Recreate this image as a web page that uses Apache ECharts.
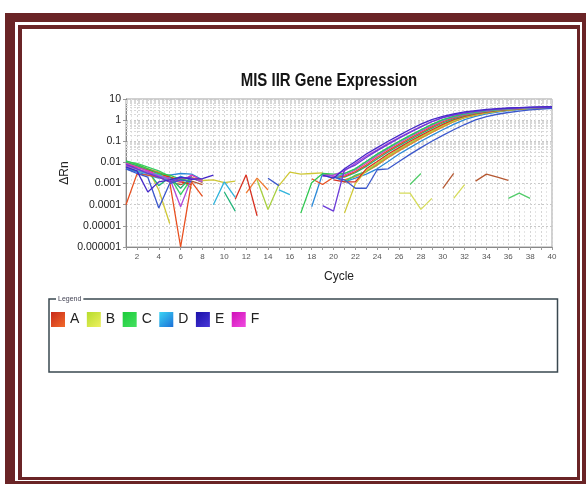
<!DOCTYPE html>
<html><head><meta charset="utf-8">
<script src="https://cdn.jsdelivr.net/npm/echarts@6/dist/echarts.min.js"></script>
<style>html,body{margin:0;padding:0;background:#fff}#c{width:586px;height:484px}</style>
</head><body><div id="c"></div>
<script>
const cycles = [1,2,3,4,5,6,7,8,9,10,11,12,13,14,15,16,17,18,19,20,21,22,23,24,25,26,27,28,29,30,31,32,33,34,35,36,37,38,39,40];
const xTickLabels = ['2','4','6','8','10','12','14','16','18','20','22','24','26','28','30','32','34','36','38','40'];
const yTickLabels = ['0.000001','0.00001','0.0001','0.001','0.01','0.1','1','10'];
const groups = ['A','B','C','D','E','F'];

const wellA1 = [0.0001,0.0028,0.0025,0.002,0.0012,0.000001,0.0012,0.00025,null,null,
  null,null,null,null,null,null,null,0.0017,0.0009,0.002,
  0.0022,0.0037,0.0075,0.017,0.036,0.071,0.14,0.26,0.48,0.84,
  1.3,1.75,2.2,2.6,3.0,3.3,3.6,3.8,3.98,4.1];
const wellA2 = [0.007,0.006,0.0045,0.003,0.002,0.0012,0.0009,null,null,null,
  0.00018,0.0026,0.00003,null,null,null,null,null,null,0.0015,
  0.0012,0.0012,0.005,0.011,0.025,0.05,0.1,0.19,0.35,0.63,
  1.05,1.5,2.0,2.4,2.8,3.15,3.45,3.7,3.9,4.05];
const wellA3 = [0.009,0.007,0.005,0.0035,0.002,0.0016,0.002,0.0011,null,null,
  null,0.00035,0.0018,0.0005,null,null,null,null,null,null,
  0.0015,0.0022,0.0037,0.0075,0.017,0.036,0.071,0.14,0.26,0.48,
  0.84,1.3,1.75,2.2,2.6,3.0,3.3,3.6,3.8,3.98];
const wellB1 = [0.01,0.008,0.005,0.0005,0.000013,null,0.0019,0.0014,0.0015,0.0011,
  0.0013,null,null,null,0.0008,0.0035,0.0028,0.003,0.0032,null,
  0.00004,0.001,0.0042,0.0092,0.021,0.043,0.085,0.165,0.3,0.55,
  0.94,1.4,1.85,2.3,2.7,3.05,3.35,3.6,3.8,3.95];
const wellB2 = [0.008,0.006,0.0045,0.003,0.0018,0.0015,0.0006,null,null,null,
  null,null,0.0015,0.00006,0.0009,null,null,null,null,null,
  0.0014,0.0022,0.0037,0.0075,0.017,0.036,0.071,0.14,0.26,0.48,
  0.84,1.3,1.75,2.2,2.6,3.0,3.3,3.6,3.8,3.98];
const wellC1 = [0.012,0.008,0.005,0.003,0.0025,0.0016,0.0013,null,null,null,
  null,null,null,null,null,null,0.00004,0.0011,0.003,0.0028,
  0.003,0.005,0.011,0.025,0.05,0.1,0.19,0.35,0.63,1.05,
  1.5,2.0,2.4,2.8,3.15,3.45,3.7,3.9,4.05,4.15];
const wellC2 = [0.01,0.007,0.004,0.0008,0.002,0.0006,0.0022,null,null,0.0004,
  0.00005,null,null,null,null,null,null,null,null,0.002,
  0.002,0.0033,0.0065,0.0145,0.031,0.062,0.12,0.23,0.42,0.75,
  1.18,1.65,2.1,2.5,2.9,3.2,3.5,3.75,3.9,4.05];
const wellC3 = [0.011,0.009,0.006,0.004,0.0022,0.0003,0.0018,0.0012,null,null,
  null,null,null,null,null,null,null,null,null,null,
  0.0012,0.0025,0.0038,0.0088,0.02,0.042,0.083,0.16,0.3,0.55,
  0.93,1.4,1.85,2.3,2.7,3.05,3.35,3.6,3.8,3.95];
const wellD1 = [0.006,0.004,0.003,0.0028,0.0012,0.0022,0.0015,null,0.0001,0.0012,
  0.00022,null,null,null,0.0005,0.0003,null,null,0.0025,0.0018,
  0.003,0.005,0.011,0.024,0.048,0.095,0.18,0.34,0.62,1.02,
  1.48,1.95,2.35,2.75,3.1,3.4,3.65,3.85,4.0,4.1];
const wellD2 = [0.005,0.0035,0.0025,0.0018,0.0025,0.003,0.0028,0.0015,null,null,
  null,null,null,null,null,null,null,0.00008,0.003,0.0022,
  0.0012,0.0018,0.0028,0.005,0.011,0.025,0.05,0.1,0.19,0.35,
  0.63,1.05,1.5,2.0,2.4,2.8,3.15,3.45,3.7,3.9];
const wellE1 = [0.006,0.004,0.0004,0.0012,0.0015,0.002,0.0016,0.0017,0.0025,null,
  null,null,null,null,null,null,null,null,0.0025,0.0018,
  0.005,0.011,0.025,0.05,0.1,0.19,0.36,0.65,1.05,1.5,
  2.0,2.45,2.85,3.2,3.5,3.75,3.95,4.1,4.2,4.3];
const wellE2 = [0.008,0.005,0.003,0.002,0.0012,0.0018,0.002,null,null,null,
  null,null,null,null,null,null,null,null,0.00009,0.00005,
  0.0045,0.0075,0.017,0.036,0.071,0.14,0.26,0.48,0.84,1.3,
  1.75,2.2,2.6,3.0,3.3,3.6,3.8,3.98,4.1,4.2];
const wellE3 = [0.005,0.003,0.002,0.00007,0.001,0.0015,0.0012,null,null,null,
  null,null,null,0.0018,0.0008,null,null,null,null,0.002,
  0.0015,0.0006,0.0006,0.0045,0.005,0.011,0.024,0.05,0.1,0.19,
  0.35,0.62,1.02,1.45,1.9,2.3,2.7,3.05,3.35,3.6];
const wellF1 = [0.007,0.005,0.0035,0.0022,0.0018,0.00008,0.0018,0.0012,null,null,
  null,null,null,null,null,null,null,null,0.0022,0.0025,
  0.004,0.009,0.02,0.04,0.08,0.15,0.28,0.5,0.86,1.3,
  1.78,2.2,2.6,3.0,3.3,3.55,3.75,3.9,4.0,4.1];
const wellF2 = [0.009,0.006,0.004,0.0025,0.0015,0.0012,0.0025,0.0014,null,null,
  null,null,null,null,null,null,null,null,0.003,0.0022,
  0.0025,0.0044,0.0092,0.021,0.043,0.085,0.165,0.3,0.55,0.94,
  1.4,1.85,2.3,2.7,3.05,3.35,3.6,3.8,3.95,4.05];
const wellN1 = [0.006,0.005,0.0035,0.0025,0.0015,0.0011,null,null,null,null,
  null,null,null,null,null,null,null,null,null,null,
  null,null,null,null,null,0.00035,0.00035,0.00006,0.0002,null,
  0.0002,0.0009,null,null,null,null,null,null,null,null];
const wellN2 = [0.007,0.005,0.003,0.002,0.0018,0.0013,0.0009,null,null,null,
  null,null,null,null,null,null,null,null,null,null,
  null,null,null,null,null,null,0.0009,0.003,null,null,
  null,null,null,null,null,0.0002,0.00035,0.0002,null,null];
const wellN3 = [0.005,0.004,0.003,0.0022,0.0012,0.0009,0.0013,0.0009,null,null,
  null,null,null,null,null,null,null,null,null,null,
  null,null,null,null,null,null,null,null,null,0.0006,
  0.003,null,0.0013,0.0028,0.002,0.0014,null,null,null,null];

const wells = [
  {g:'B', d:wellN1, c:'#d6dc5a'},
  {g:'C', d:wellN2, c:'#52cc6a'},
  {g:'A', d:wellN3, c:'#b65a34'},
  {g:'D', d:wellD2, c:'#2c8ad8'},
  {g:'B', d:wellB2, c:'#a8d040'},
  {g:'A', d:wellA3, c:'#f07a30'},
  {g:'C', d:wellC3, c:'#3ad066'},
  {g:'B', d:wellB1, c:'#cfc836'},
  {g:'A', d:wellA2, c:'#d83222'},
  {g:'C', d:wellC2, c:'#22b47a'},
  {g:'A', d:wellA1, c:'#e85020'},
  {g:'F', d:wellF2, c:'#e038b8'},
  {g:'D', d:wellD1, c:'#30b4dc'},
  {g:'C', d:wellC1, c:'#30c850'},
  {g:'F', d:wellF1, c:'#b048d8'},
  {g:'E', d:wellE3, c:'#3c58cc'},
  {g:'E', d:wellE2, c:'#6a3ad8'},
  {g:'E', d:wellE1, c:'#4528c8'}
];

function grad(a, b) {
  return {type:'linear', x:0, y:0, x2:1, y2:1, colorStops:[{offset:0,color:a},{offset:1,color:b}]};
}
const legendColors = {
  A: grad('#c82a1a', '#f26a2a'),
  B: grad('#b6dc2c', '#eef060'),
  C: grad('#1ccc3a', '#44e060'),
  D: grad('#3ad4f4', '#1c70d8'),
  E: grad('#1a10a8', '#4a38d8'),
  F: grad('#d010b8', '#f04ae0')
};

const minorY = [];
for (let e = -6; e <= 0; e++) for (let m = 2; m <= 9; m++) minorY.push(+(m * Math.pow(10, e)).toPrecision(3));

const series = wells.map(w => ({
  name: w.g, type: 'line', showSymbol: false, symbol: 'none',
  connectNulls: false, silent: true, z: 3,
  lineStyle: {width: 1.3, color: w.c}, itemStyle: {color: w.c},
  data: cycles.map((c, i) => [c, w.d[i]])
}));
series.unshift({
  type: 'line', data: [], silent: true, z: 1,
  markLine: {silent: true, z: 1, symbol: 'none', label: {show: false}, animation: false,
    lineStyle: {color: '#d8d8d8', type: [2, 2], width: 1},
    data: minorY.map(v => ({yAxis: v}))}
});

const chart = echarts.init(document.getElementById('c'), null, {renderer: 'canvas'});
const maroon = '#6a2426';
chart.setOption({
  animation: false,
  backgroundColor: '#fff',
  textStyle: {fontFamily: 'Liberation Sans, Arial, sans-serif'},
  grid: {left: 126, right: 34, top: 99, bottom: 237, show: true, borderColor: '#a0a0a0', borderWidth: 1, backgroundColor: '#fff'},
  xAxis: {
    type: 'value', min: 1, max: 40, interval: 1,
    name: 'Cycle', nameLocation: 'middle', nameGap: 24, nameMoveOverlap: false,
    nameTextStyle: {fontSize: 12, color: '#222'},
    axisLine: {lineStyle: {color: '#888'}},
    axisTick: {show: true, length: 3, lineStyle: {color: '#999'}},
    axisLabel: {fontSize: 8, color: '#555', margin: 6,
      formatter: v => xTickLabels.includes(String(v)) ? String(v) : ''},
    splitLine: {show: true, lineStyle: {color: '#d6d6d6', type: [2, 2]}},
    minorTick: {show: false, splitNumber: 2},
    minorSplitLine: {show: true, lineStyle: {color: '#e4e4e4', type: [2, 2]}}
  },
  yAxis: {
    type: 'log', logBase: 10, min: 0.000001, max: 10, splitNumber: 7,
    name: 'ΔRn', nameLocation: 'middle', nameGap: 55, nameRotate: 90, nameMoveOverlap: false,
    nameTextStyle: {fontSize: 12, color: '#222'},
    axisLine: {show: true, lineStyle: {color: '#888'}},
    axisTick: {show: true, length: 3, lineStyle: {color: '#999'}},
    axisLabel: {fontSize: 10.5, color: '#222', margin: 5,
      formatter: v => yTickLabels[Math.round(Math.log10(v)) + 6] || ''},
    splitLine: {show: true, lineStyle: {color: '#c8c8c8', type: [2, 2]}}
  },
  legend: {
    left: 51, top: 312, padding: 0, itemWidth: 14, itemHeight: 15, itemGap: 7.5, icon: 'rect',
    selectedMode: false,
    textStyle: {fontSize: 14, color: '#222', fontFamily: 'Liberation Sans Narrow, Liberation Sans, sans-serif', width: 10},
    data: groups.map(g => ({name: g, itemStyle: {color: legendColors[g]}}))
  },
  graphic: [
    {type: 'rect', shape: {x: 5, y: 13, width: 581, height: 9}, style: {fill: maroon}},
    {type: 'rect', shape: {x: 5, y: 13, width: 10, height: 471}, style: {fill: maroon}},
    {type: 'rect', shape: {x: 582, y: 13, width: 4, height: 471}, style: {fill: maroon}},
    {type: 'rect', shape: {x: 5, y: 481, width: 581, height: 3}, style: {fill: maroon}},
    {type: 'rect', shape: {x: 18, y: 25, width: 562, height: 4}, style: {fill: maroon}},
    {type: 'rect', shape: {x: 18, y: 25, width: 4, height: 455}, style: {fill: maroon}},
    {type: 'rect', shape: {x: 577, y: 25, width: 3, height: 455}, style: {fill: maroon}},
    {type: 'rect', shape: {x: 18, y: 477, width: 562, height: 3}, style: {fill: maroon}},
    {type: 'rect', shape: {x: 49, y: 299, width: 508.5, height: 73}, style: {fill: 'none', stroke: '#3a4850', lineWidth: 1.5}},
    {type: 'text', x: 56, y: 299, style: {text: 'Legend', fontSize: 7, fill: '#445', backgroundColor: '#fff', padding: [0, 2], verticalAlign: 'middle', fontFamily: 'Liberation Sans'}},
    {type: 'text', x: 329, y: 81, scaleX: 0.81, style: {text: 'MIS IIR Gene Expression', font: 'bold 18.5px "Liberation Sans"', fill: '#151515', align: 'center', verticalAlign: 'middle'}}
  ],
  series: series
});
</script>
</body></html>
